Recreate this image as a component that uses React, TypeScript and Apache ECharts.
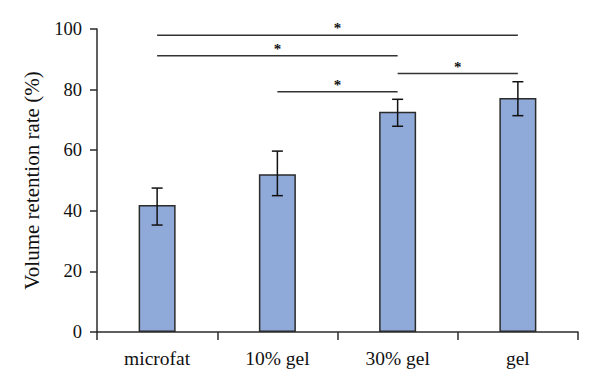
import React, { useEffect, useRef } from "react";
import * as echarts from "echarts";

const categories = ["microfat", "10% gel", "30% gel", "gel"];
const means = [41.9, 52.1, 72.7, 77.2];
const errLow = [35.3, 45.0, 67.9, 71.4];
const errHigh = [47.5, 59.7, 76.8, 82.6];
const yTicks = [0, 20, 40, 60, 80, 100];
// significance brackets: [fromIndex, toIndex, level]
const sigFrom = [0, 0, 2, 1];
const sigTo = [3, 2, 3, 2];
const sigLevel = [97.9, 91.2, 85.3, 79.3];
const sigLabel = ["*", "*", "*", "*"];

const FONT = "'Liberation Serif', 'Times New Roman', serif";
const DARK = "#2b2b2b";

export default function App() {
  const ref = useRef<HTMLDivElement>(null);
  useEffect(() => {
    if (!ref.current) return;
    const chart = echarts.init(ref.current, undefined, { renderer: "svg" });
    const errData = categories.map((_, i) => [i, errLow[i], errHigh[i]]);
    const sigData = sigFrom.map((f, i) => [f, sigTo[i], sigLevel[i], i]);
    chart.setOption({
      animation: false,
      backgroundColor: "#ffffff",
      grid: { left: 97, right: 22, top: 29, bottom: 59, containLabel: false },
      xAxis: {
        type: "category",
        data: categories,
        boundaryGap: true,
        axisLine: { lineStyle: { color: DARK, width: 1.5 } },
        axisTick: { show: true, length: 8, alignWithLabel: false, lineStyle: { color: DARK, width: 1.5 } },
        axisLabel: { color: "#111", fontFamily: FONT, fontSize: 19.5, margin: 16 },
      },
      yAxis: {
        type: "value",
        min: yTicks[0],
        max: yTicks[yTicks.length - 1],
        interval: 20,
        name: "Volume retention rate (%)",
        nameLocation: "middle",
        nameGap: 55,
        nameTextStyle: { color: "#111", fontFamily: FONT, fontSize: 21 },
        axisLine: { show: true, lineStyle: { color: DARK, width: 1.5 } },
        axisTick: { show: true, length: 7, lineStyle: { color: DARK, width: 1.5 } },
        axisLabel: { color: "#111", fontFamily: FONT, fontSize: 18.5, margin: 15 },
        splitLine: { show: false },
      },
      series: [
        {
          type: "bar",
          data: means,
          barWidth: 37,
          itemStyle: { color: "#8faad9", borderColor: DARK, borderWidth: 1.5 },
          z: 2,
        },
        {
          type: "custom",
          data: errData,
          encode: { x: 0, y: [1, 2] },
          z: 3,
          renderItem: (params: any, api: any) => {
            const i = api.value(0);
            const lo = api.coord([i, api.value(1)]);
            const hi = api.coord([i, api.value(2)]);
            const x = lo[0];
            const hw = 5.5;
            const style = { stroke: "#111", lineWidth: 1.5 };
            return {
              type: "group",
              children: [
                { type: "line", shape: { x1: x, y1: lo[1], x2: x, y2: hi[1] }, style },
                { type: "line", shape: { x1: x - hw, y1: lo[1], x2: x + hw, y2: lo[1] }, style },
                { type: "line", shape: { x1: x - hw, y1: hi[1], x2: x + hw, y2: hi[1] }, style },
              ],
            };
          },
        },
        {
          type: "custom",
          data: sigData,
          encode: { x: [0, 1], y: 2 },
          z: 3,
          clip: false,
          renderItem: (params: any, api: any) => {
            const a = api.coord([api.value(0), api.value(2)]);
            const b = api.coord([api.value(1), api.value(2)]);
            const idx = api.value(3);
            const mid = (a[0] + b[0]) / 2;
            return {
              type: "group",
              children: [
                {
                  type: "line",
                  shape: { x1: a[0], y1: a[1], x2: b[0], y2: b[1] },
                  style: { stroke: "#333", lineWidth: 1.5 },
                },
                {
                  type: "text",
                  style: {
                    text: sigLabel[idx],
                    x: mid,
                    y: a[1] - 7,
                    align: "center",
                    verticalAlign: "middle",
                    font: `bold 15px ${FONT}`,
                    fill: "#111",
                  },
                },
              ],
            };
          },
        },
      ],
    });
    return () => chart.dispose();
  }, []);
  return <div ref={ref} style={{ width: 600, height: 391, position: "absolute", left: 0, top: 0 }} />;
}
